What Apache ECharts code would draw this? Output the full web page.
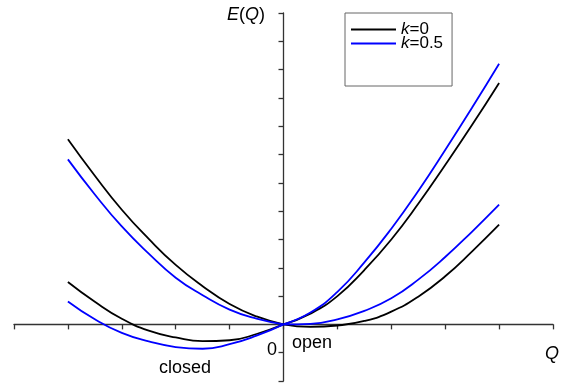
<!DOCTYPE html>
<html>
<head>
<meta charset="utf-8">
<script src="https://cdn.jsdelivr.net/npm/echarts@6/dist/echarts.min.js"></script>
<style>
	html, body { margin: 0; padding: 0; background: #fff; }
	#chart { width: 567px; height: 386px; }
</style>
</head>
<body>
<div id="chart"></div>
<script>
// values, Q and E in tick units
const q = [-4, -3.5, -3, -2.5, -2, -1.5, -1, -0.5, 0, 0.5, 1, 1.5, 2, 2.5, 3, 3.5, 4]
const upperK0 = [6.54, 5.25, 4.05, 3.02, 2.1, 1.35, 0.72, 0.28, 0, 0.38, 1.0, 1.92, 3.0, 4.26, 5.63, 7.05, 8.53]
const upperK05 = [5.83, 4.59, 3.46, 2.5, 1.65, 1.03, 0.52, 0.2, 0, 0.42, 1.15, 2.19, 3.38, 4.71, 6.16, 7.66, 9.21]
const lowerK0 = [1.5, 0.8, 0.2, -0.22, -0.46, -0.59, -0.56, -0.34, 0, -0.09, -0.04, 0.12, 0.45, 0.98, 1.7, 2.58, 3.52]
const lowerK05 = [0.81, 0.18, -0.3, -0.6, -0.8, -0.86, -0.7, -0.4, 0, 0.02, 0.18, 0.48, 0.92, 1.58, 2.38, 3.28, 4.23]

const legendNames = ['k=0', 'k=0.5']

const pairs = ys => q.map((x, i) => [x, ys[i]])

const font = 'Liberation Sans, Arial, Helvetica, sans-serif'
const axisColor = '#333'

// the branches meet at Q=0 with a corner, so each side is its own smooth line
function branches(name, color, ys) {
	const pts = pairs(ys)
	const mid = q.indexOf(0)
	return [pts.slice(0, mid + 1), pts.slice(mid)].map(data => ({
		name: name,
		type: 'line',
		data: data,
		symbol: 'none',
		smooth: 0.5,
		lineStyle: { color: color, width: 1.8 },
		itemStyle: { color: color }
	}))
}

const chart = echarts.init(document.getElementById('chart'))

chart.setOption({
	animation: false,
	grid: {
		left: 14,
		right: 14,
		top: 13,
		bottom: 5
	},
	legend: {
		orient: 'vertical',
		left: 345,
		top: 13,
		padding: [8, 9, 34, 6],
		icon: 'rect',
		itemWidth: 45,
		itemHeight: 2,
		itemGap: -3,
		borderColor: '#666',
		borderWidth: 1,
		data: legendNames,
		formatter: name => '{i|k}' + name.slice(1),
		textStyle: {
			fontFamily: font,
			fontSize: 17,
			color: '#000',
			rich: {
				i: { fontStyle: 'italic', fontFamily: font, fontSize: 17, color: '#000' }
			}
		}
	},
	xAxis: {
		type: 'value',
		min: -5,
		max: 5,
		interval: 1,
		axisLine: { onZero: true, lineStyle: { color: axisColor, width: 1.3 } },
		axisTick: { length: 5, lineStyle: { color: axisColor, width: 1.3 } },
		axisLabel: { show: false },
		splitLine: { show: false }
	},
	yAxis: {
		type: 'value',
		min: -2,
		max: 11,
		interval: 1,
		axisLine: { show: true, onZero: true, lineStyle: { color: axisColor, width: 1.3 } },
		axisTick: { show: true, length: 5, lineStyle: { color: axisColor, width: 1.3 } },
		axisLabel: { show: false },
		splitLine: { show: false }
	},
	graphic: [
		{
			type: 'text',
			left: 227,
			top: 6,
			style: {
				text: '{i|E}({i|Q})',
				font: '18px ' + font,
				fill: '#000',
				rich: { i: { fontStyle: 'italic', fontSize: 18, fontFamily: font } }
			}
		},
		{
			type: 'text',
			left: 545,
			top: 345,
			style: { text: 'Q', font: 'italic 18px ' + font, fill: '#000' }
		},
		{
			type: 'text',
			left: 267,
			top: 341,
			style: { text: '0', font: '18px ' + font, fill: '#000' }
		},
		{
			type: 'text',
			left: 292,
			top: 334,
			style: { text: 'open', font: '18px ' + font, fill: '#000' }
		},
		{
			type: 'text',
			left: 159,
			top: 359,
			style: { text: 'closed', font: '18px ' + font, fill: '#000' }
		}
	],
	series: [
		...branches(legendNames[0], '#000', upperK0),
		...branches(legendNames[0], '#000', lowerK0),
		...branches(legendNames[1], '#0000ff', upperK05),
		...branches(legendNames[1], '#0000ff', lowerK05)
	]
})
</script>
</body>
</html>
